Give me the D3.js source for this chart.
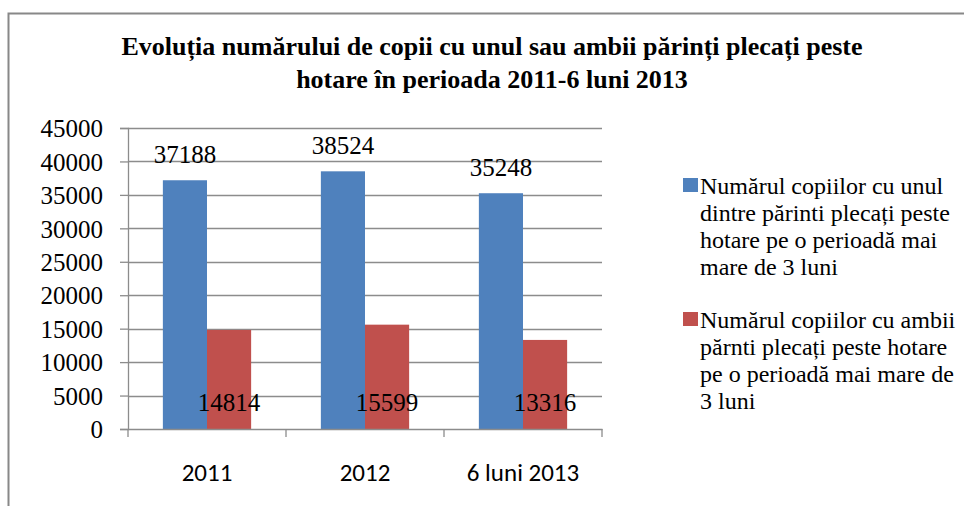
<!DOCTYPE html>
<html>
<head>
<meta charset="utf-8">
<script src="https://cdn.jsdelivr.net/npm/d3@7"></script>
<style>
  body { margin: 0; background: #fff; }
  svg { display: block; }
</style>
</head>
<body>
<div id="chart"></div>
<script>
// data
var categories = ['2011', '2012', '6 luni 2013'];
var unParinte = [37188, 38524, 35248];
var ambiiParinti = [14814, 15599, 13316];
var yTicks = [0, 5000, 10000, 15000, 20000, 25000, 30000, 35000, 40000, 45000];
var seriesNames = [
  ['Numărul copiilor cu unul', 'dintre părinti plecați peste', 'hotare pe o perioadă mai', 'mare de 3 luni'],
  ['Numărul copiilor cu ambii', 'părnti plecați peste hotare', 'pe o perioadă mai mare de', '3 luni']
];
var titleLines = ['Evoluția numărului de copii cu unul sau ambii părinți plecați peste',
                  'hotare în perioada 2011-6 luni 2013'];
var colors = ['#4F81BD', '#C0504D'];

var W = 964, H = 506;
var svg = d3.select('#chart').append('svg').attr('width', W).attr('height', H);
var SERIF = "'Times New Roman', 'Liberation Serif', 'DejaVu Serif', serif";

// frame
svg.append('path').attr('d', 'M8.5,' + H + 'V13.5H' + W)
  .attr('fill', 'none').attr('stroke', '#888').attr('stroke-width', 2);

// title
svg.selectAll('text.title').data(titleLines).enter().append('text')
  .attr('class', 'title')
  .attr('x', 492).attr('y', function(d, i) { return 55 + i * 33; })
  .attr('text-anchor', 'middle')
  .attr('font-family', SERIF).attr('font-weight', 'bold').attr('font-size', 26)
  .text(function(d) { return d; });

var pLeft = 128, pRight = 602, pTop = 128, pBottom = 429;

var y = d3.scaleLinear().domain([0, 45000]).range([pBottom, pTop]);
var x = d3.scaleBand().domain(categories).range([pLeft, pRight]);
var x1 = d3.scaleBand().domain([0, 1]).range([0, x.bandwidth()]).paddingOuter(0.79).paddingInner(0);

// gridlines
svg.append('g').selectAll('line').data(yTicks.slice(1)).enter().append('line')
  .attr('x1', pLeft).attr('x2', pRight)
  .attr('y1', function(d) { return Math.round(y(d)) + 0.5; })
  .attr('y2', function(d) { return Math.round(y(d)) + 0.5; })
  .attr('stroke', '#8c8c8c').attr('stroke-width', 1.3);

// y axis
var yAxis = svg.append('g').attr('transform', 'translate(' + pLeft + ',0)')
  .call(d3.axisLeft(y).tickValues(yTicks).tickSize(8).tickPadding(17).tickFormat(d3.format('d')));
yAxis.attr('font-family', SERIF).attr('font-size', 25);
yAxis.select('.domain').attr('stroke', '#8c8c8c').attr('stroke-width', 1.3);
yAxis.selectAll('.tick line').attr('stroke', '#8c8c8c').attr('stroke-width', 1.3);
yAxis.selectAll('.tick text').attr('fill', '#000').attr('dy', '0.35em');

// bars
var groups = svg.append('g').selectAll('g').data(categories).enter().append('g')
  .attr('transform', function(d) { return 'translate(' + x(d) + ',0)'; });

[unParinte, ambiiParinti].forEach(function(vals, s) {
  groups.append('rect')
    .attr('x', x1(s))
    .attr('width', x1.bandwidth())
    .attr('y', function(d, i) { return y(vals[i]); })
    .attr('height', function(d, i) { return pBottom - y(vals[i]); })
    .attr('fill', colors[s]);
});

// value labels
groups.append('text')
  .attr('x', x1(0) + x1.bandwidth() / 2)
  .attr('y', function(d, i) { return y(unParinte[i]) - 17; })
  .attr('text-anchor', 'middle')
  .attr('font-family', SERIF).attr('font-size', 25)
  .text(function(d, i) { return unParinte[i]; });
groups.append('text')
  .attr('x', x1(1) + x1.bandwidth() / 2)
  .attr('y', pBottom - 18)
  .attr('text-anchor', 'middle')
  .attr('font-family', SERIF).attr('font-size', 25)
  .text(function(d, i) { return ambiiParinti[i]; });

// x axis
var xAxis = svg.append('g').attr('transform', 'translate(0,' + pBottom + ')')
  .call(d3.axisBottom(x).tickSize(0).tickPadding(34));
xAxis.attr('font-family', "Carlito, 'Liberation Sans', sans-serif").attr('font-size', 25);
xAxis.select('.domain').attr('stroke', '#8c8c8c').attr('stroke-width', 1.3);
xAxis.selectAll('.tick text').attr('fill', '#000');
svg.append('g').selectAll('line').data(categories.concat(['end'])).enter().append('line')
  .attr('x1', function(d) { return d === 'end' ? pRight : x(d); })
  .attr('x2', function(d) { return d === 'end' ? pRight : x(d); })
  .attr('y1', pBottom).attr('y2', pBottom + 8)
  .attr('stroke', '#8c8c8c').attr('stroke-width', 1.3);

// legend
var legend = svg.append('g').selectAll('g').data(seriesNames).enter().append('g')
  .attr('transform', function(d, i) { return 'translate(683,' + (178 + i * 134) + ')'; });
legend.append('rect').attr('width', 15).attr('height', 14)
  .attr('fill', function(d, i) { return colors[i]; });
legend.each(function(lines) {
  d3.select(this).selectAll('text').data(lines).enter().append('text')
    .attr('x', 17).attr('y', function(d, j) { return 16 + j * 27; })
    .attr('font-family', SERIF).attr('font-size', 24)
    .text(function(d) { return d; });
});
</script>
</body>
</html>
